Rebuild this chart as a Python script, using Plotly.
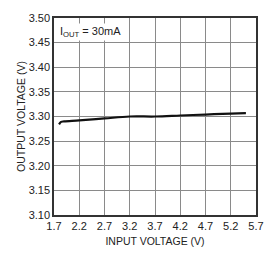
import plotly.graph_objects as go

vin = [1.80, 1.84, 1.90, 2.2, 2.7, 3.2, 3.7, 4.2, 4.7, 5.2, 5.5]
vout = [3.284, 3.289, 3.290, 3.292, 3.296, 3.300, 3.300, 3.302, 3.304, 3.306, 3.307]
xticks = [1.7, 2.2, 2.7, 3.2, 3.7, 4.2, 4.7, 5.2, 5.7]
yticks = [3.10, 3.15, 3.20, 3.25, 3.30, 3.35, 3.40, 3.45, 3.50]

font = "Liberation Sans Narrow, Arial Narrow, Liberation Sans, Arial"

fig = go.Figure()
fig.add_trace(go.Scatter(x=vin, y=vout, mode="lines",
                         line=dict(color="#111111", width=2.2, shape="spline"),
                         showlegend=False, hoverinfo="skip"))
fig.update_layout(
    width=276, height=258,
    margin=dict(l=54, r=19, t=14, b=43),
    paper_bgcolor="white", plot_bgcolor="white",
    font=dict(family=font, size=11, color="#222222"),
    xaxis=dict(range=[1.7, 5.7], tickvals=xticks,
               ticktext=[f"{v:.1f}" for v in xticks],
               showgrid=True, gridcolor="#8a8a8a", gridwidth=1,
               showline=True, linecolor="#333333", linewidth=1.5, mirror=True,
               ticks="", zeroline=False,
               title=dict(text="INPUT VOLTAGE (V)", standoff=7,
                          font=dict(size=10.5, family=font))),
    yaxis=dict(range=[3.10, 3.50], tickvals=yticks,
               ticktext=[f"{v:.2f}" for v in yticks],
               showgrid=True, gridcolor="#8a8a8a", gridwidth=1,
               showline=True, linecolor="#333333", linewidth=1.5, mirror=True,
               ticks="", zeroline=False,
               title=dict(text="OUTPUT VOLTAGE (V)", standoff=1,
                          font=dict(size=10.5, family=font))),
    annotations=[dict(x=1.78, y=3.49, xref="x", yref="y",
                      text="I<sub>OUT</sub> = 30mA", showarrow=False,
                      xanchor="left", yanchor="top",
                      bgcolor="white",
                      font=dict(size=11, family=font, color="#222222"))],
)
fig.write_html("out.html")
